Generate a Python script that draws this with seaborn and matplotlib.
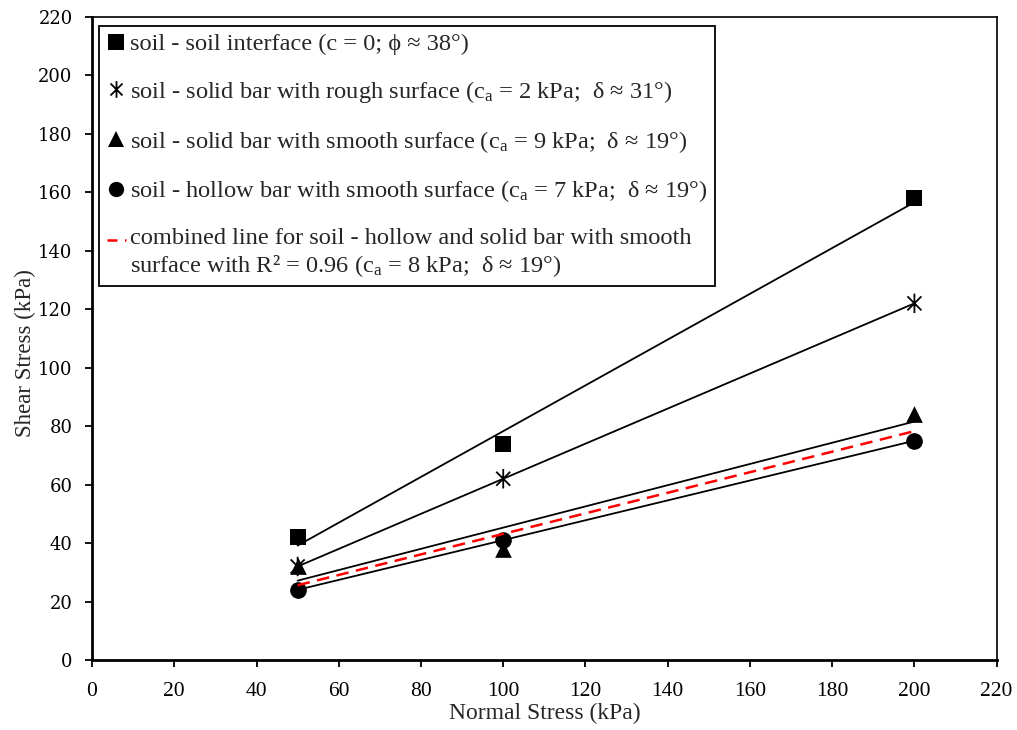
import numpy as np
import pandas as pd
import seaborn as sns
import matplotlib
matplotlib.use("Agg")
import matplotlib.pyplot as plt
from matplotlib.lines import Line2D
from matplotlib.path import Path
from matplotlib.legend_handler import HandlerLine2D

# Normal stress levels used in the direct shear tests (kPa)
normal_stress = [50, 100, 200]

# Peak shear stress for each interface type (kPa)
soil_soil = [42, 74, 158]
rough_solid = [32, 62, 122]
smooth_solid = [32, 38, 84]
smooth_hollow = [24, 41, 75]

x_ticks = [0, 20, 40, 60, 80, 100, 120, 140, 160, 180, 200, 220]
y_ticks = [0, 20, 40, 60, 80, 100, 120, 140, 160, 180, 200, 220]

labels = [
    "soil - soil interface (c = 0; \u03d5 \u2248 38\u00b0)",
    "soil - solid bar with rough surface ($\\mathregular{c_a}$ = 2 kPa;  \u03b4 \u2248 31\u00b0)",
    "soil - solid bar with smooth surface ($\\mathregular{c_a}$ = 9 kPa;  \u03b4 \u2248 19\u00b0)",
    "soil - hollow bar with smooth surface ($\\mathregular{c_a}$ = 7 kPa;  \u03b4 \u2248 19\u00b0)",
    "combined line for soil - hollow and solid bar with smooth\n"
    "surface with R\u00b2 = 0.96 ($\\mathregular{c_a}$ = 8 kPa;  \u03b4 \u2248 19\u00b0)",
]

sns.set_theme(style="white")
plt.rcParams["font.family"] = ["Liberation Serif", "DejaVu Serif"]
plt.rcParams["mathtext.fontset"] = "custom"
plt.rcParams["mathtext.rm"] = "Liberation Serif"
plt.rcParams["mathtext.it"] = "Liberation Serif:italic"

# Asterisk: an X crossed by a vertical stroke
d = 0.72
star = Path(
    [(0, -1), (0, 1), (-d, -d), (d, d), (-d, d), (d, -d)],
    [Path.MOVETO, Path.LINETO, Path.MOVETO, Path.LINETO, Path.MOVETO, Path.LINETO],
)


class TopLineHandler(HandlerLine2D):
    """Legend line raised to sit beside the first row of a two-row label."""

    def __init__(self, shift, **kw):
        super().__init__(**kw)
        self.shift = shift

    def create_artists(self, *args, **kwargs):
        arts = super().create_artists(*args, **kwargs)
        for a in arts:
            a.set_ydata(np.asarray(a.get_ydata(), dtype=float) + self.shift)
        return arts


fig = plt.figure(figsize=(10.17, 7.30), dpi=100)
ax = fig.add_axes([0.0905, 0.0959, 0.8895, 0.881])

series = [
    (soil_soil, "s", 12, None),
    (rough_solid, star, 14, 1.3),
    (smooth_solid, "^", 12, None),
    (smooth_hollow, "o", 12, None),
]

x = np.array(normal_stress, dtype=float)
ends = np.array([x.min(), x.max()])
handles = []
for ys, marker, ms, mew in series:
    ys = np.array(ys, dtype=float)
    slope, icpt = np.polyfit(x, ys, 1)
    fit = pd.DataFrame({"x": ends, "y": icpt + slope * ends})
    sns.lineplot(data=fit, x="x", y="y", color="black", linewidth=1.3, ax=ax, zorder=2)
    df = pd.DataFrame({"x": x, "y": ys})
    if mew is not None:
        sns.scatterplot(data=df, x="x", y="y", marker=marker, s=ms ** 2,
                        facecolor="none", edgecolor="black", linewidth=mew, ax=ax, zorder=3)
        handles.append(Line2D([], [], linestyle="none", marker=marker, markersize=ms - 2,
                              markerfacecolor="none", markeredgecolor="black",
                              markeredgewidth=mew))
    else:
        sns.scatterplot(data=df, x="x", y="y", marker=marker, s=ms ** 2,
                        color="black", linewidth=0, ax=ax, zorder=3)
        handles.append(Line2D([], [], linestyle="none", marker=marker, color="black",
                              markersize=ms - 1, markeredgewidth=0))

# Pooled fit for the two smooth-surface bars
x_all = np.concatenate([x, x])
y_all = np.array(smooth_solid + smooth_hollow, dtype=float)
slope, icpt = np.polyfit(x_all, y_all, 1)
comb = pd.DataFrame({"x": ends, "y": icpt + slope * ends})
sns.lineplot(data=comb, x="x", y="y", color="red", linewidth=1.8, ax=ax, zorder=4)
ax.lines[-1].set_dashes((5, 3))
comb_handle = Line2D([], [], color="red", linewidth=1.8, dashes=(4, 3))
handles.append(comb_handle)

ax.set_xlim(0, 220)
ax.set_ylim(0, 220)
ax.set_xticks(x_ticks)
ax.set_yticks(y_ticks)
ax.set_yticklabels([str(v) for v in y_ticks], fontfamily="DejaVu Serif", fontsize=13)
ax.set_xlabel("Normal Stress (kPa)", fontsize=17, labelpad=1)
ax.set_ylabel("Shear Stress (kPa)", fontsize=16.5)
ax.yaxis.set_label_coords(-0.062, 0.478)
ax.tick_params(axis="x", direction="out", length=5, width=1.3, labelsize=15.5, pad=11,
               bottom=True, colors="black")
ax.tick_params(axis="y", direction="out", length=5, width=1.3, pad=9,
               left=True, colors="black")

for side in ("left", "bottom"):
    ax.spines[side].set_linewidth(2.0)
    ax.spines[side].set_color("black")
for side in ("top", "right"):
    ax.spines[side].set_linewidth(1.2)
    ax.spines[side].set_color("black")

leg = ax.legend(handles, labels, loc="upper left", bbox_to_anchor=(0.008, 0.986),
                fontsize=17.6, frameon=True, fancybox=False, edgecolor="black",
                framealpha=1, handlelength=0.8, handletextpad=0.15,
                labelspacing=0.97, borderpad=0.3, borderaxespad=0,
                handler_map={comb_handle: TopLineHandler(shift=9.5)})
leg.get_frame().set_linewidth(1.3)

fig.savefig("out.png", dpi=100)
